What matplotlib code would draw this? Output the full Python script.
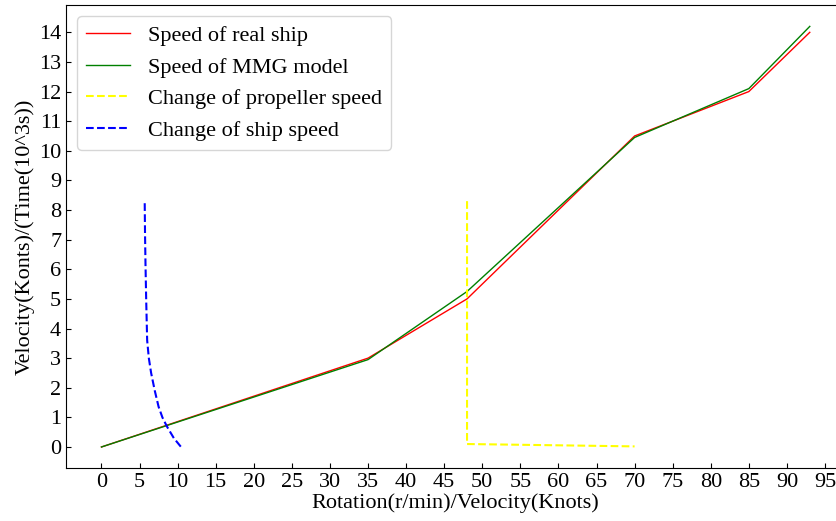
import numpy as np
import matplotlib.pyplot as plt

plt.rcParams['font.family'] = ['Liberation Serif', 'DejaVu Serif']

# speed curves
x_speed = [0, 35, 48, 70, 85, 93]
real_ship = [0, 3.0, 5.0, 10.5, 12.0, 14.0]
mmg_model = [0, 2.95, 5.25, 10.45, 12.1, 14.2]

# propeller speed change (dashed yellow)
prop_x = [48, 48, 70]
prop_y = [8.3, 0.1, 0.02]

# ship speed change (dashed blue)
ship_x = [5.68, 5.72, 5.78, 5.87, 6.0, 6.22, 6.52, 7.0, 7.5, 8.0, 8.6, 9.5, 10.45]
ship_y = [8.23, 7.2, 6.2, 5.0, 3.6, 3.0, 2.5, 1.9, 1.36, 1.0, 0.69, 0.3, 0.0]

fig = plt.figure(figsize=(8.36, 5.21), dpi=100)
ax = fig.add_axes([0.079, 0.1017, 0.932, 0.888])

ax.plot(x_speed, real_ship, color='red', linewidth=1, label='Speed of real ship')
ax.plot(x_speed, mmg_model, color='green', linewidth=1, label='Speed of MMG model')
ax.plot(prop_x, prop_y, color='yellow', linestyle='--', linewidth=1.5, label='Change of propeller speed')
ax.plot(ship_x, ship_y, color='blue', linestyle='--', linewidth=1.5, label='Change of ship speed')

ax.set_xticks(np.arange(0, 96, 5))
ax.set_yticks(np.arange(0, 15, 1))
ax.tick_params(direction='in', labelsize=16)
ax.set_xlabel('Rotation(r/min)/Velocity(Knots)', fontsize=16, labelpad=1)
ax.set_ylabel('Velocity(Konts)/(Time(10^3s))', fontsize=16, labelpad=3)
ax.legend(loc='upper left', fontsize=16, handlelength=2, borderaxespad=0.5)

fig.savefig('out.png', dpi=100)
